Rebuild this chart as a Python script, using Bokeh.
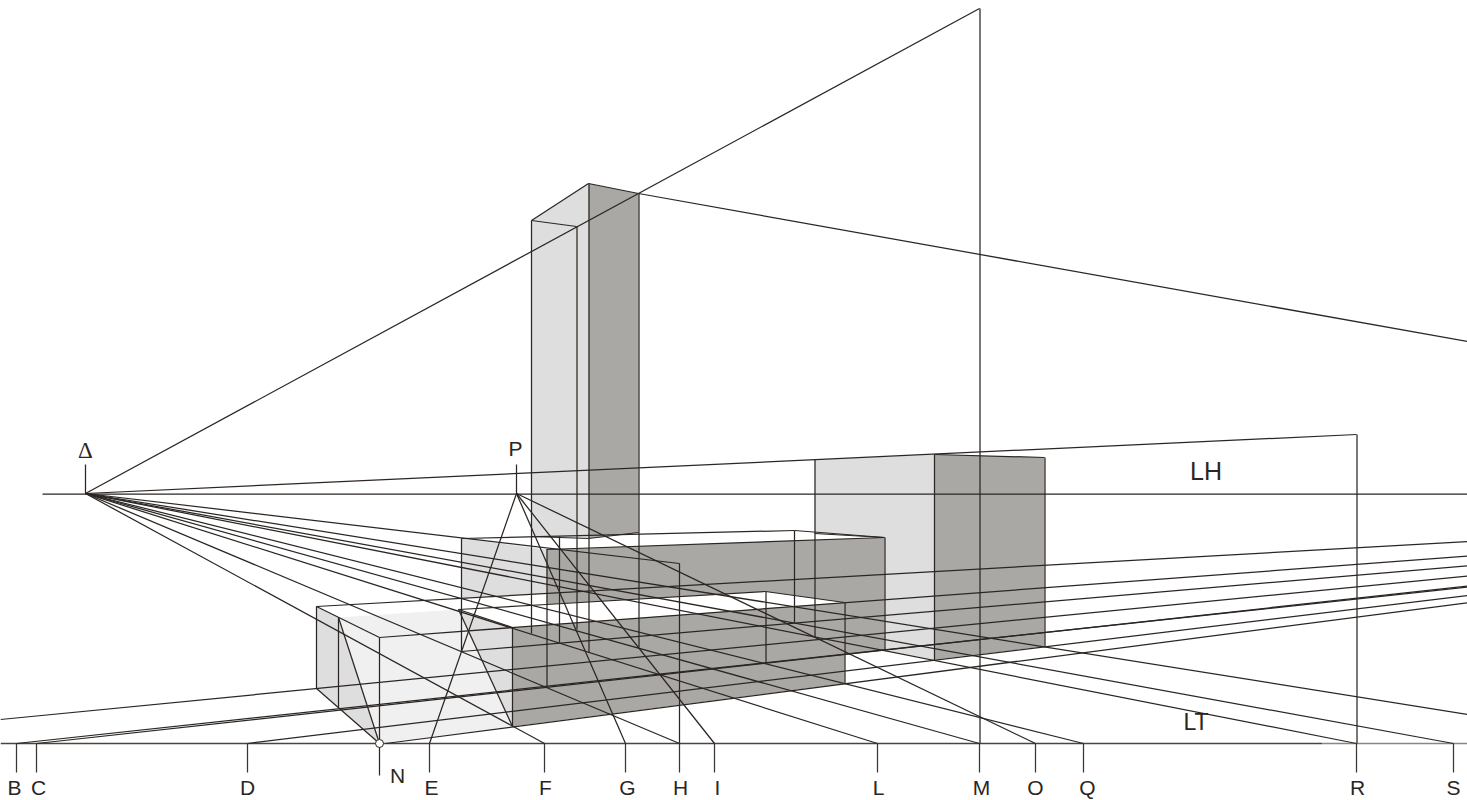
from bokeh.plotting import figure
from bokeh.models import Range1d
from bokeh.core.properties import value
from bokeh.embed import file_html
from bokeh.resources import INLINE

LINE = "#2b2623"
LIGHT = "#dedede"
PALE = "#f0f0f0"
DARK = "#aaa8a5"
LW = 1.25

# --- key points of the drawing
DELTA = (85, 493)
PP = (516, 493)
GROUND_Y = 743

# --- ground-line marks and labels
tick_names = ["B", "C", "D", "N", "E", "F", "G", "H", "I", "L", "M", "O", "Q", "R", "S"]
tick_x = [16, 36, 247, 379, 429, 544, 625, 679, 714, 877, 979, 1035, 1083, 1356, 1453]
label_x = [14, 38, 247, 397, 431, 545, 627, 680, 717, 878, 981, 1035, 1087, 1357, 1453]
label_y = [787, 787, 787, 775, 787, 787, 787, 787, 787, 787, 787, 787, 787, 787, 787]

other_names = ["P", "LH", "LT"]
other_x = [515, 1205.5, 1195.5]
other_y = [448, 470, 721]
other_size = ["21px", "25px", "23px"]

# --- filled faces
faces = [
    (LIGHT, [531, 588, 588, 531], [220, 183, 538, 536]),
    (DARK, [588, 638, 638, 588], [183, 193, 532, 538]),
    (LIGHT, [814, 934, 934, 884, 884, 814], [459, 454, 659, 650, 537, 533]),
    (DARK, [934, 1044, 1044, 934], [454, 457, 646, 659]),
    (LIGHT, [461, 546, 546, 461], [538, 549, 593, 598]),
    (DARK, [546, 884, 884, 844, 844, 765, 546], [549, 537, 650, 653, 602, 591, 604]),
    (LIGHT, [316, 338, 338, 316], [606, 617, 707, 688]),
    (LIGHT, [338, 379, 338], [617, 743, 707]),
    (PALE, [338, 458, 512, 379], [617, 609, 726, 743]),
    (LIGHT, [458, 512, 512], [609, 627, 726]),
    (DARK, [512, 844, 844, 512], [627, 602, 683, 726]),
]

# --- lines from the point Delta: end x, end y
delta_end_x = [979, 1356, 679, 1467, 1453, 1356, 1083, 979, 877, 679, 544]
delta_end_y = [8, 434, 563, 714, 743, 743, 743, 743, 743, 743, 743]

# --- lines from the point P: end x, end y
p_end_x = [429, 625, 714, 1035]
p_end_y = [743, 743, 743, 743]

# --- lines rising to the right: start x, start y, end y at the right edge
rise_x0 = [316, 379, 461, 0, 36, 16, 247, 385]
rise_y0 = [606, 637, 651, 719, 743, 743, 743, 743]
rise_y1 = [541, 555.7, 565.3, 575.5, 585.5, 586.5, 595, 602.3]

# --- vertical edges: x, top, bottom
vert_x = [979.5, 1356.5, 85, 516, 531, 559, 576.5, 588.5, 638.5, 546.5, 461, 316, 338, 379, 512,
          844.5, 884.5, 934, 1044.5, 814.5, 794, 765.5, 679]
vert_top = [8, 434, 464, 464, 220, 536, 226, 183, 193, 549, 538, 606, 617, 637, 627,
            602, 537, 454, 457, 459, 530, 591, 563]
vert_bottom = [743, 743, 493, 493, 633, 642, 629, 652, 647, 686, 651, 688, 707, 775, 726,
               683, 650, 660, 646, 637, 622, 662, 743]

# --- other edges
edge_x0 = [531, 588, 531, 638, 461, 546, 794, 934, 458, 546, 765, 316, 458, 316, 338, 458, 531, 588, 814]
edge_y0 = [220, 183, 220, 193, 538, 549, 530, 454, 609, 604, 591, 606, 609, 688, 617, 609, 536, 538, 533]
edge_x1 = [588, 638, 576, 1467, 794, 884, 884, 1044, 546, 765, 844, 379, 512, 379, 379, 512, 588, 638, 884]
edge_y1 = [183, 193, 226, 341, 530, 537, 537, 457, 604, 591, 602, 637, 627, 743, 743, 726, 538, 532, 537]

p = figure(width=1467, height=800, output_backend="svg", toolbar_location=None,
           x_range=Range1d(0, 1467), y_range=Range1d(800, 0), min_border=0)
p.axis.visible = False
p.xgrid.visible = False
p.ygrid.visible = False
p.outline_line_color = None
p.background_fill_color = "white"

for color, xs, ys in faces:
    p.patch(xs, ys, fill_color=color, line_color=None)

# horizon and ground line
p.segment([42], [DELTA[1] + 0.5], [1467], [DELTA[1] + 0.5], line_color=LINE, line_width=LW)
p.segment([0], [GROUND_Y], [1322], [GROUND_Y], line_color="#4a4540", line_width=1.6)
p.segment([1322], [GROUND_Y], [1467], [GROUND_Y], line_color="#8a8684", line_width=1.6)

n = len(delta_end_x)
p.segment([DELTA[0]] * n, [DELTA[1]] * n, delta_end_x, delta_end_y, line_color=LINE, line_width=LW)
n = len(p_end_x)
p.segment([PP[0]] * n, [PP[1]] * n, p_end_x, p_end_y, line_color=LINE, line_width=LW)
p.segment(rise_x0, rise_y0, [1467] * len(rise_x0), rise_y1, line_color=LINE, line_width=LW)
p.segment(vert_x, vert_top, vert_x, vert_bottom, line_color=LINE, line_width=LW)
p.segment(edge_x0, edge_y0, edge_x1, edge_y1, line_color=LINE, line_width=LW)
ticks = [t for t in zip(tick_names, tick_x) if t[0] != "N"]
p.segment([t[1] for t in ticks], [GROUND_Y] * len(ticks), [t[1] for t in ticks], [772] * len(ticks),
          line_color="#3a3633", line_width=LW)

p.scatter([379], [GROUND_Y], size=8, marker="circle", fill_color="white", line_color=LINE, line_width=1)

p.text(label_x, label_y, text=tick_names, text_font=value("Liberation Sans"), text_font_size="21px",
       text_align="center", text_baseline="middle", text_color="#2b2623")
for name, x, y, size in zip(other_names, other_x, other_y, other_size):
    p.text([x], [y], text=[name], text_font=value("Liberation Sans"), text_font_size=value(size),
           text_align="center", text_baseline="middle", text_color="#2b2623")
p.text([85], [450], text=["\u0394"], text_font=value("Liberation Serif"), text_font_size="23px",
       text_align="center", text_baseline="middle", text_color="#2b2623")

open("out.html", "w").write(file_html(p, INLINE))
